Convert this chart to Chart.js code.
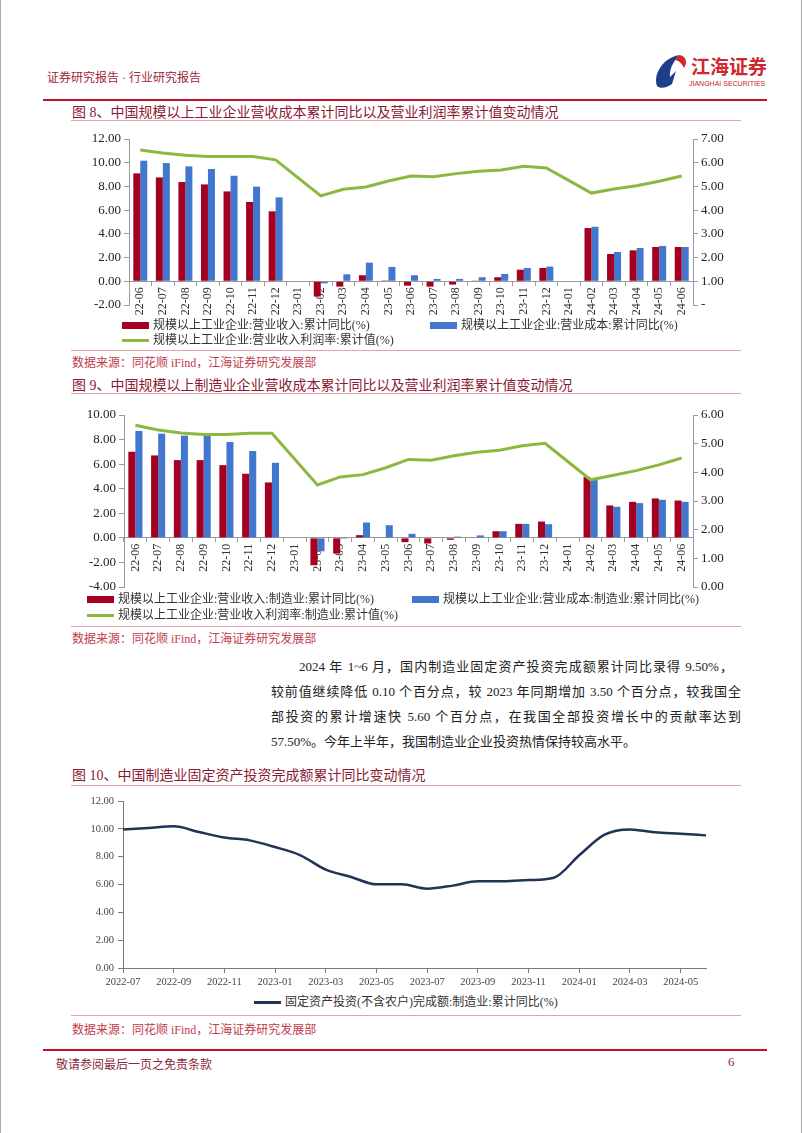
<!DOCTYPE html>
<html>
<head>
<meta charset="utf-8">
<script src="https://cdn.jsdelivr.net/npm/chart.js@4.4.1/dist/chart.umd.min.js"></script>
<style>
  body { margin: 0; background: #fff; }
  #page { position: relative; width: 802px; height: 1133px; overflow: hidden; background: #fff;
          border-left: 1px solid #aaa; border-right: 1px solid #aaa; box-sizing: border-box;
          font-family: "Liberation Serif", "Noto Sans CJK SC", serif; }
  .t { position: absolute; white-space: nowrap; }
  .line { position: absolute; height: 0; }
  canvas { position: absolute; }
  .lg { position: absolute; font-size: 12px; color: #333; white-space: nowrap; line-height: 14px; }
  .lg i { position: absolute; top: 4px; left: 0; width: 27px; height: 7px; }
  .lg span { position: absolute; left: 31px; top: 0; }
  .pl { position: absolute; font-size: 13px; line-height: 25px; color: #222; white-space: nowrap; }
  .pl.j { text-align: justify; text-align-last: justify; white-space: normal; }
</style>
</head>
<body>
<div id="page">
  <!-- header -->
  <div class="t" style="left:46px;top:68px;font-size:12px;color:#A0283C;">证券研究报告 · 行业研究报告</div>
  <svg style="position:absolute;left:652px;top:50px;" width="115" height="42">
    <path d="M4 36 C0 24 10 8 26 5 C20 12 16 20 17 27 L23 21 L19 34 C14 38 7 39 4 36 Z" fill="#1E3E8C"/>
    <path d="M26 5 C33 6 35 12 31 18 C29 14 27 11 22 10 Z" fill="#D0262D"/>
    <text x="38" y="24" font-size="19" font-weight="bold" fill="#D0262D" font-family="Noto Sans CJK SC">江海证券</text>
    <text x="36" y="36" font-size="7" fill="#C0272D" font-family="Liberation Sans">JIANGHAI SECURITIES</text>
  </svg>
  <div class="line" style="left:42px;top:99px;width:724px;border-top:2px solid #C0102A;"></div>

  <!-- figure 8 -->
  <div class="t" style="left:71px;top:101px;font-size:14px;color:#8B1A33;">图 8、中国规模以上工业企业营收成本累计同比以及营业利润率累计值变动情况</div>
  <div class="line" style="left:70px;top:120px;width:670px;border-top:1px solid #E6A2AC;"></div>
  <canvas id="chart1" width="690" height="195" style="left:60px;top:125px;"></canvas>
  <div class="line" style="left:70px;top:350px;width:670px;border-top:1px solid #E6A2AC;"></div>
  <div class="t" style="left:71px;top:353px;font-size:12px;color:#C23B4E;">数据来源：同花顺 iFind，江海证券研究发展部</div>

  <!-- figure 9 -->
  <div class="t" style="left:71px;top:374px;font-size:14px;color:#8B1A33;">图 9、中国规模以上制造业企业营收成本累计同比以及营业利润率累计值变动情况</div>
  <div class="line" style="left:70px;top:393px;width:670px;border-top:1px solid #E6A2AC;"></div>
  <canvas id="chart2" width="690" height="200" style="left:60px;top:400px;"></canvas>
  <div class="line" style="left:70px;top:626px;width:670px;border-top:1px solid #E6A2AC;"></div>
  <div class="t" style="left:71px;top:629px;font-size:12px;color:#C23B4E;">数据来源：同花顺 iFind，江海证券研究发展部</div>

  <!-- 正文段落 -->
  <div class="pl j" style="left:298px;top:654px;width:434px;">2024 年 1~6 月，国内制造业固定资产投资完成额累计同比录得 9.50%，</div>
  <div class="pl j" style="left:270px;top:679px;width:470px;">较前值继续降低 0.10 个百分点，较 2023 年同期增加 3.50 个百分点，较我国全</div>
  <div class="pl j" style="left:270px;top:704px;width:470px;">部投资的累计增速快 5.60 个百分点，在我国全部投资增长中的贡献率达到</div>
  <div class="pl" style="left:270px;top:729px;">57.50%。今年上半年，我国制造业企业投资热情保持较高水平。</div>

  <!-- figure 10 -->
  <div class="t" style="left:71px;top:764px;font-size:14px;color:#8B1A33;">图 10、中国制造业固定资产投资完成额累计同比变动情况</div>
  <div class="line" style="left:70px;top:785px;width:670px;border-top:1px solid #E6A2AC;"></div>
  <canvas id="chart3" width="680" height="200" style="left:60px;top:790px;"></canvas>
  <div class="line" style="left:70px;top:1015px;width:670px;border-top:1px solid #E6A2AC;"></div>
  <div class="t" style="left:71px;top:1020px;font-size:12px;color:#C23B4E;">数据来源：同花顺 iFind，江海证券研究发展部</div>

  <!-- footer -->
  <div class="line" style="left:42px;top:1049px;width:724px;border-top:2px solid #C0102A;"></div>
  <div class="t" style="left:55px;top:1055px;font-size:12px;color:#8B2A3A;">敬请参阅最后一页之免责条款</div>
  <div class="t" style="left:727px;top:1054px;font-size:13px;color:#8B2A3A;">6</div>
</div>

<script>
// 月份标签 (图8, 图9)
const monthLabels = ['22-06', '22-07', '22-08', '22-09', '22-10', '22-11', '22-12', '23-01', '23-02', '23-03',
    '23-04', '23-05', '23-06', '23-07', '23-08', '23-09', '23-10', '23-11', '23-12', '24-01',
    '24-02', '24-03', '24-04', '24-05', '24-06'];

// 图8: 规模以上工业企业
const revenueAll = [9.10, 8.76, 8.37, 8.17, 7.58, 6.69, 5.90, null, -1.29, -0.45,
    0.51, 0.07, -0.37, -0.45, -0.28, 0.02, 0.34, 0.98, 1.12, null,
    4.49, 2.30, 2.61, 2.89, 2.89];
const costAll = [10.17, 9.97, 9.69, 9.47, 8.90, 7.98, 7.08, null, -0.17, 0.59,
    1.57, 1.21, 0.51, 0.20, 0.20, 0.34, 0.62, 1.12, 1.24, null,
    4.60, 2.47, 2.81, 2.98, 2.89];
const marginAll = [6.54, 6.41, 6.31, 6.26, 6.26, 6.26, 6.12, null, 4.60, 4.88,
    4.98, 5.23, 5.44, 5.41, 5.54, 5.64, 5.69, 5.85, 5.78, null,
    4.72, 4.89, 5.03, 5.22, 5.44];

// 图9: 制造业
const revenueMfg = [7.01, 6.71, 6.33, 6.33, 5.92, 5.22, 4.51, null, -2.23, -1.28,
    0.22, 0.03, -0.35, -0.46, -0.16, 0.05, 0.54, 1.14, 1.33, null,
    4.95, 2.64, 2.93, 3.21, 3.04];
const costMfg = [8.70, 8.48, 8.32, 8.32, 7.80, 7.07, 6.11, null, -1.09, -0.08,
    1.25, 1.03, 0.33, 0.02, 0.10, 0.20, 0.54, 1.14, 1.11, null,
    4.73, 2.53, 2.83, 3.10, 2.93];
const marginMfg = [5.64, 5.48, 5.37, 5.32, 5.32, 5.36, 5.36, null, 3.56, 3.84,
    3.92, 4.16, 4.45, 4.42, 4.58, 4.70, 4.77, 4.93, 5.01, null,
    3.74, 3.90, 4.06, 4.26, 4.50];

// 图10: 制造业固定资产投资完成额累计同比
const faiMonths = ['2022-07', '2022-08', '2022-09', '2022-10', '2022-11', '2022-12',
    '2023-01', '2023-02', '2023-03', '2023-04', '2023-05', '2023-06',
    '2023-07', '2023-08', '2023-09', '2023-10', '2023-11', '2023-12',
    '2024-01', '2024-02', '2024-03', '2024-04', '2024-05', '2024-06'];
const faiMfg = [9.96, 10.06, 10.18, 9.77, 9.37, 9.17, 8.69, 8.10, 7.07, 6.54, 6.01, 6.01,
    5.70, 5.92, 6.23, 6.23, 6.32, 6.49, 8.10, 9.58, 9.96, 9.75, 9.65, 9.53];

const RED = '#A30022';
const BLUE = '#4277CF';
const GREEN = '#8DB83F';
const NAVY = '#1F3553';
const AXIS = '#9a9a9a';

Chart.defaults.font.family = '"Liberation Serif", "Noto Sans CJK SC", serif';
Chart.defaults.color = '#222';
Chart.defaults.animation = false;

// 柱状+折线 组合图 (图8 / 图9 结构相同)
function makeBarLine(id, rev, cost, margin, left, right) {
    return new Chart(document.getElementById(id), {
        type: 'bar',
        data: {
            labels: monthLabels,
            datasets: [
                { type: 'line', data: margin, yAxisID: 'y1', borderColor: GREEN, borderWidth: 3,
                  pointRadius: 0, spanGaps: true, tension: 0, order: 0 },
                { data: rev, backgroundColor: RED, yAxisID: 'y', order: 1,
                  categoryPercentage: 0.62, barPercentage: 1.0 },
                { data: cost, backgroundColor: BLUE, yAxisID: 'y', order: 1,
                  categoryPercentage: 0.62, barPercentage: 1.0 }
            ]
        },
        options: {
            responsive: false,
            layout: { padding: { top: left.padTop, bottom: left.padBottom, left: 0, right: 0 } },
            plugins: { legend: { display: false }, tooltip: { enabled: false } },
            scales: {
                x: {
                    position: { y: 0 },
                    grid: { drawOnChartArea: false, tickLength: 4, color: AXIS },
                    border: { color: AXIS },
                    ticks: { autoSkip: false, minRotation: 90, maxRotation: 90, padding: 2,
                             font: { size: 12 }, color: '#333' }
                },
                y: {
                    position: 'left', min: left.min, max: left.max,
                    ticks: { stepSize: 2, font: { size: 13 }, padding: 3, color: '#222',
                             callback: v => v.toFixed(2) },
                    grid: { drawOnChartArea: false, tickLength: 5, color: AXIS },
                    border: { color: AXIS },
                    afterFit: s => { s.width = left.width; }
                },
                y1: {
                    position: 'right', min: 0, max: right.max,
                    ticks: { stepSize: 1, font: { size: 13 }, padding: 3, color: '#222',
                             callback: v => (v === 0 && right.dash) ? '-' : v.toFixed(2) },
                    grid: { drawOnChartArea: false, tickLength: 5, color: AXIS },
                    border: { color: AXIS },
                    afterFit: s => { s.width = right.width; }
                }
            }
        }
    });
}

makeBarLine('chart1', revenueAll, costAll, marginAll,
    { min: -2, max: 12, width: 68, padTop: 14, padBottom: 15 },
    { max: 7, width: 58, dash: true });

makeBarLine('chart2', revenueMfg, costMfg, marginMfg,
    { min: -4, max: 10, width: 63, padTop: 15, padBottom: 13 },
    { max: 6, width: 58, dash: false });

// 图10 折线
new Chart(document.getElementById('chart3'), {
    type: 'line',
    data: {
        labels: faiMonths,
        datasets: [{ data: faiMfg, borderColor: NAVY, borderWidth: 2.5, pointRadius: 0,
                     cubicInterpolationMode: 'monotone' }]
    },
    options: {
        responsive: false,
        layout: { padding: { top: 11, bottom: 0, left: 0, right: 35 } },
        plugins: { legend: { display: false }, tooltip: { enabled: false } },
        scales: {
            x: {
                offset: false,
                grid: { drawOnChartArea: false, tickLength: 5, color: '#777' },
                border: { color: '#777' },
                ticks: { autoSkip: false, maxRotation: 0, padding: 3, font: { size: 10.5 }, color: '#444',
                         callback: (v, i) => i % 2 === 0 ? faiMonths[i] : null },
                afterFit: s => { s.height = 22; }
            },
            y: {
                min: 0, max: 12,
                ticks: { stepSize: 2, font: { size: 10.5 }, padding: 4, color: '#444',
                         callback: v => v.toFixed(2) },
                grid: { drawOnChartArea: false, tickLength: 5, color: '#777' },
                border: { color: '#777' },
                afterFit: s => { s.width = 62; }
            }
        }
    }
});

// 图例 (HTML)
function legendItem(x, y, color, text, isLine) {
    const d = document.createElement('div');
    d.className = 'lg';
    d.style.left = x + 'px';
    d.style.top = (y - 7) + 'px';
    const sw = isLine ? '<i style="background:' + color + ';height:3px;top:6px;"></i>'
                      : '<i style="background:' + color + ';"></i>';
    d.innerHTML = sw + '<span>' + text + '</span>';
    document.getElementById('page').appendChild(d);
}

legendItem(121, 325, RED, '规模以上工业企业:营业收入:累计同比(%)', false);
legendItem(429, 325, BLUE, '规模以上工业企业:营业成本:累计同比(%)', false);
legendItem(121, 340, GREEN, '规模以上工业企业:营业收入利润率:累计值(%)', true);

legendItem(86, 599, RED, '规模以上工业企业:营业收入:制造业:累计同比(%)', false);
legendItem(411, 599, BLUE, '规模以上工业企业:营业成本:制造业:累计同比(%)', false);
legendItem(86, 615, GREEN, '规模以上工业企业:营业收入利润率:制造业:累计值(%)', true);

legendItem(253, 1002, NAVY, '固定资产投资(不含农户)完成额:制造业:累计同比(%)', true);
</script>
</body>
</html>
